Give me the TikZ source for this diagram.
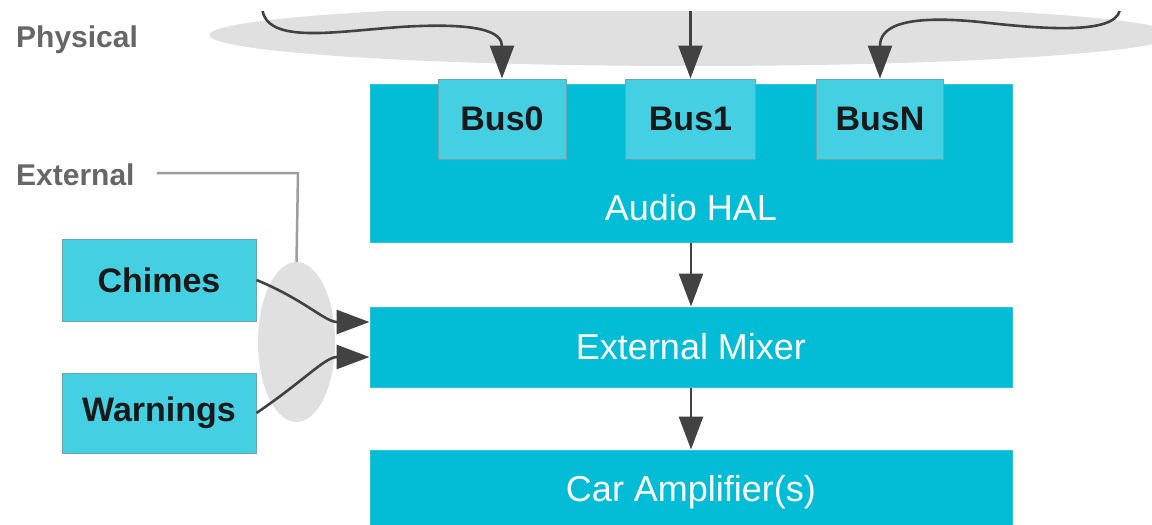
\documentclass[tikz,border=0pt]{standalone}
\usepackage{fontspec}
\setmainfont{Liberation Sans}
\usetikzlibrary{arrows.meta,shapes.geometric}
\definecolor{cyanA}{HTML}{03BCD6}
\definecolor{cyanB}{HTML}{45CFE2}
\definecolor{bordB}{HTML}{6FA3AE}
\definecolor{bordA}{HTML}{30C2D8}
\definecolor{greyfill}{HTML}{E0E0E0}
\definecolor{arrcol}{HTML}{424242}
\definecolor{labcol}{HTML}{666666}
\definecolor{extline}{HTML}{9E9E9E}
\tikzset{
  bigbox/.style={draw=bordA, line width=1pt, fill=cyanA, inner sep=0pt, minimum width=642pt},
  smallbox/.style={draw=bordB, line width=1pt, fill=cyanB, inner sep=0pt, font=\fontsize{34}{40}\selectfont\bfseries, text=black!90},
  whitetext/.style={text=white, font=\fontsize{36}{42}\selectfont, inner sep=0pt},
  sidelabel/.style={text=labcol, font=\fontsize{30}{36}\selectfont\bfseries, inner sep=0pt, anchor=west},
  arr/.style={draw=arrcol, line width=2.6pt, -{Triangle[length=33pt,width=24pt]}},
  greyell/.style={ellipse, fill=greyfill, inner sep=0pt}
}
\begin{document}
\begin{tikzpicture}[x=1pt,y=-1pt]
\useasboundingbox (0,0) rectangle (1152,525);
\fill[white] (0,0) rectangle (1152,525);
\begin{scope}
\clip (0,11) rectangle (1152,525);
% background ellipses
\node[greyell, minimum width=965pt, minimum height=62pt] (physell) at (692,35) {};
\node[greyell, minimum width=77pt, minimum height=160pt] (extell) at (296.5,342) {};
% labels
\node[sidelabel] (phys) at (16,40) {Physical};
\node[sidelabel] (ext) at (16,175) {External};
% main boxes
\node[bigbox, minimum height=158pt] (hal) at (691,163) {};
\node[whitetext] (haltext) at (691,208) {Audio HAL};
\node[bigbox, minimum height=80pt, whitetext] (mixer) at (691,347) {External Mixer};
\node[bigbox, minimum height=85pt, whitetext] (car) at (691,492.5) {Car Amplifier(s)};
% bus boxes
\node[smallbox, minimum width=128pt, minimum height=80pt] (bus0) at (502,119) {Bus0};
\node[smallbox, minimum width=130pt, minimum height=80pt] (bus1) at (690.5,119) {Bus1};
\node[smallbox, minimum width=127pt, minimum height=80pt] (busN) at (880,119) {BusN};
% external sources
\node[smallbox, minimum width=194pt, minimum height=82pt] (chimes) at (159,280) {Chimes};
\node[smallbox, minimum width=194pt, minimum height=80pt] (warn) at (159,413) {Warnings};
% free ends
\coordinate (s0) at (262,5);
\coordinate (s1) at (690.5,5);
\coordinate (sN) at (1120,5);
\coordinate (extcorner) at (298,173);
% physical arrows
\draw[arr] (s0) .. controls (262,45) and (330,32) .. (400,27) .. controls (480,22) and (502,32) .. (bus0.north);
\draw[arr] (s1) -- (bus1.north);
\draw[arr] (sN) .. controls (1124,35) and (1050,30) .. (980,22) .. controls (900,14) and (880,28) .. (busN.north);
% chain
\draw[arr] (hal.south) -- (mixer.north);
\draw[arr] (mixer.south) -- (car.north);
% external arrows
\draw[arr] (chimes.east |- 0,280) .. controls (305,300) and (325,322) .. (mixer.west |- 0,322);
\draw[arr] (warn.east |- 0,413) .. controls (305,380) and (325,357) .. (mixer.west |- 0,357);
% external line
\draw[extline, line width=2.5pt] (ext.east) ++(22,-2) -- (extcorner) -- (extell.north);
\end{scope}
\end{tikzpicture}
\end{document}
